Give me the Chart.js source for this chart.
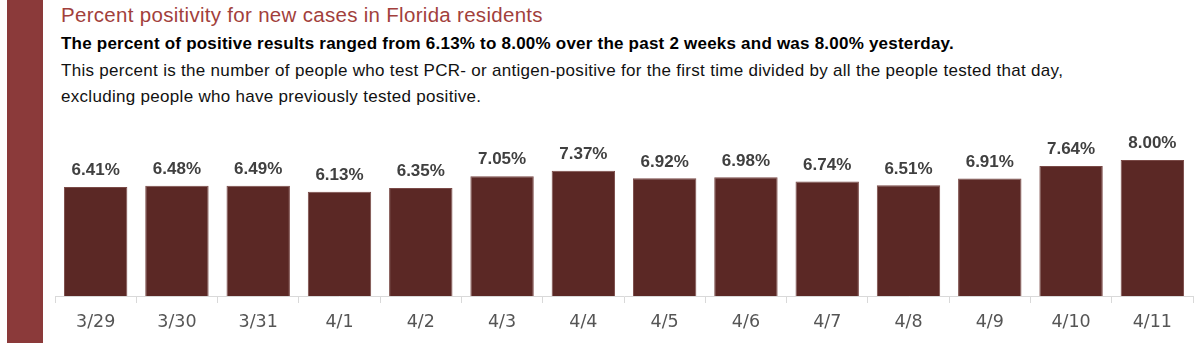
<!DOCTYPE html>
<html>
<head>
<meta charset="utf-8">
<script src="https://cdn.jsdelivr.net/npm/chart.js@4"></script>
<style>
  body { margin: 0; background: #fff; font-family: "Liberation Sans", Arial, sans-serif; }
  #page { position: relative; width: 1200px; height: 343px; overflow: hidden; }
  #stripe { position: absolute; left: 7px; top: 0; width: 36px; height: 343px; background: #8b3a3a; }
  .txt { position: absolute; left: 61px; white-space: nowrap; }
  #title { top: 3px; font-size: 20.5px; letter-spacing: 0.3px; color: #a23f3c; }
  #sub { top: 34px; font-size: 17px; letter-spacing: 0.22px; font-weight: bold; color: #000; }
  #desc1 { top: 61px; font-size: 17px; letter-spacing: 0.3px; color: #111; }
  #desc2 { top: 87px; font-size: 17px; letter-spacing: 0.3px; color: #111; }
  #wrap { position: absolute; left: 50px; top: 110px; width: 1150px; height: 233px; }
</style>
</head>
<body>
<div id="page">
  <div id="stripe"></div>
  <div class="txt" id="title">Percent positivity for new cases in Florida residents</div>
  <div class="txt" id="sub">The percent of positive results ranged from 6.13% to 8.00% over the past 2 weeks and was 8.00% yesterday.</div>
  <div class="txt" id="desc1">This percent is the number of people who test PCR- or antigen-positive for the first time divided by all the people tested that day,</div>
  <div class="txt" id="desc2">excluding people who have previously tested positive.</div>
  <div id="wrap"><canvas id="chart"></canvas></div>
</div>
<script>
  const dates = ["3/29", "3/30", "3/31", "4/1", "4/2", "4/3", "4/4", "4/5", "4/6", "4/7", "4/8", "4/9", "4/10", "4/11"];
  const positivity = [6.41, 6.48, 6.49, 6.13, 6.35, 7.05, 7.37, 6.92, 6.98, 6.74, 6.51, 6.91, 7.64, 8.00];

  // value labels above each bar
  const barLabels = {
    id: "barLabels",
    afterDatasetsDraw(chart) {
      const ctx = chart.ctx;
      const meta = chart.getDatasetMeta(0);
      ctx.save();
      ctx.font = "bold 17px 'Liberation Sans', Arial, sans-serif";
      ctx.fillStyle = "#404040";
      ctx.textAlign = "center";
      ctx.textBaseline = "bottom";
      meta.data.forEach((bar, i) => {
        ctx.fillText(positivity[i].toFixed(2) + "%", bar.x, bar.y - 8);
      });
      ctx.restore();
    },
  };

  new Chart(document.getElementById("chart"), {
    type: "bar",
    data: {
      labels: dates,
      datasets: [
        {
          data: positivity,
          backgroundColor: "#5b2825",
          borderColor: "#7a4a47",
          borderWidth: 1,
          categoryPercentage: 0.78,
          barPercentage: 1,
        },
      ],
    },
    options: {
      responsive: true,
      maintainAspectRatio: false,
      animation: false,
      layout: { padding: { left: 5, right: 7, top: 16, bottom: 1 } },
      plugins: { legend: { display: false }, tooltip: { enabled: false } },
      scales: {
        x: {
          grid: {
            offset: true,
            drawOnChartArea: false,
            tickLength: 7,
            color: "#d9d9d9",
          },
          border: { color: "#d9d9d9" },
          ticks: {
            color: "#555555",
            padding: 9,
            font: { size: 17.5, family: "'DejaVu Sans', sans-serif" },
          },
        },
        y: { display: false, min: 0, max: 10 },
      },
    },
    plugins: [barLabels],
  });
</script>
</body>
</html>
